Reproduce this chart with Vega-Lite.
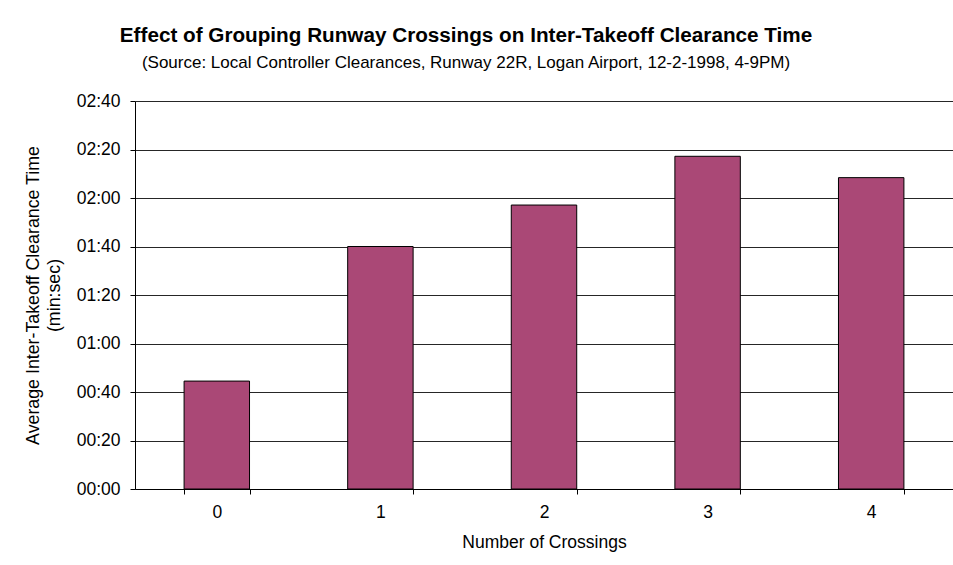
{
  "$schema": "https://vega.github.io/schema/vega-lite/v6.json",
  "autosize": {"type": "none"},
  "width": 818,
  "height": 388,
  "padding": {"left": 135, "top": 101, "right": 0, "bottom": 76},
  "background": "white",
  "title": {
    "text": "Effect of Grouping Runway Crossings on Inter-Takeoff Clearance Time",
    "subtitle": "(Source: Local Controller Clearances, Runway 22R, Logan Airport, 12-2-1998, 4-9PM)",
    "anchor": "middle",
    "frame": "group",
    "dx": -78,
    "offset": 20,
    "font": "Liberation Sans",
    "fontSize": 20.7,
    "fontWeight": "bold",
    "color": "black",
    "subtitleFont": "Liberation Sans",
    "subtitleFontSize": 17,
    "subtitleColor": "black",
    "subtitlePadding": 8
  },
  "data": {
    "values": [
      {"crossings": "0", "seconds": 44.5},
      {"crossings": "1", "seconds": 100},
      {"crossings": "2", "seconds": 117.1},
      {"crossings": "3", "seconds": 137.2},
      {"crossings": "4", "seconds": 128.4}
    ]
  },
  "mark": {"type": "bar", "color": "#AA4876", "stroke": "black", "strokeWidth": 1},
  "encoding": {
    "x": {
      "field": "crossings",
      "type": "ordinal",
      "sort": ["0", "1", "2", "3", "4"],
      "scale": {"paddingInner": 0.6, "paddingOuter": 0.3},
      "axis": {
        "title": "Number of Crossings",
        "labelAngle": 0,
        "tickBand": "extent",
        "grid": false,
        "domainColor": "black",
        "tickColor": "black",
        "tickSize": 5,
        "labelPadding": 9,
        "titlePadding": 13,
        "labelFont": "Liberation Sans",
        "labelFontSize": 17.5,
        "labelColor": "black",
        "titleFont": "Liberation Sans",
        "titleFontSize": 17.5,
        "titleFontWeight": "normal",
        "titleColor": "black"
      }
    },
    "y": {
      "field": "seconds",
      "type": "quantitative",
      "scale": {"domain": [0, 160], "nice": false},
      "axis": {
        "title": ["Average Inter-Takeoff Clearance Time", "(min:sec)"],
        "values": [0, 20, 40, 60, 80, 100, 120, 140, 160],
        "labelExpr": "(datum.value < 600 ? '0' : '') + floor(datum.value/60) + ':' + (datum.value % 60 < 10 ? '0' : '') + (datum.value % 60)",
        "grid": true,
        "gridColor": "black",
        "gridWidth": 1,
        "gridOpacity": 0.85,
        "domainColor": "black",
        "tickColor": "black",
        "tickSize": 5,
        "labelPadding": 10,
        "titlePadding": 13,
        "titleLineHeight": 21,
        "labelFont": "Liberation Sans",
        "labelFontSize": 17.5,
        "labelColor": "black",
        "titleFont": "Liberation Sans",
        "titleFontSize": 17.8,
        "titleFontWeight": "normal",
        "titleColor": "black"
      }
    }
  },
  "config": {
    "view": {"stroke": null}
  }
}
